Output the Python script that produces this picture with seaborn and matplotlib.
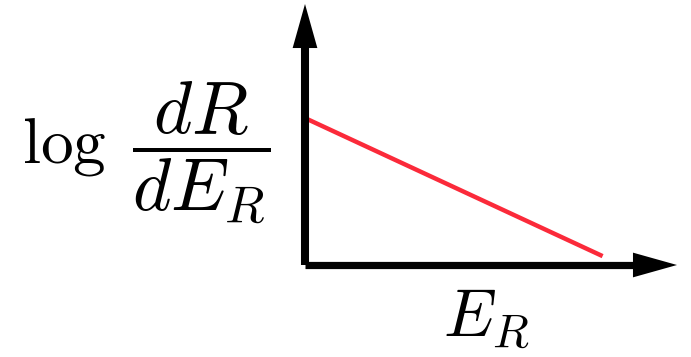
import matplotlib
matplotlib.use("Agg")
import matplotlib.pyplot as plt
import seaborn as sns
import pandas as pd

# Schematic recoil spectrum: log of the differential rate falls linearly with recoil energy
energy = [0.0, 0.80]
log_rate = [0.563, 0.034]

log_text = r"$\log$"
frac_text = r"$\dfrac{dR}{dE_R}$"
xlabel_text = r"$E_R$"

sns.set_style("white")
plt.rcParams["mathtext.fontset"] = "cm"

W, H = 691, 357
fig = plt.figure(figsize=(W / 100, H / 100), dpi=100)
ax = fig.add_axes([305 / W, (H - 265) / H, 372 / W, 261 / H])
ax.set_xlim(0, 1)
ax.set_ylim(0, 1)
ax.axis("off")

df = pd.DataFrame({"energy": energy, "log_rate": log_rate})
sns.lineplot(data=df, x="energy", y="log_rate", ax=ax, color="#fb2a3a",
             linewidth=3.2, zorder=2, legend=False)
for ln in ax.lines:
    ln.set_solid_capstyle("butt")
    ln.set_clip_on(False)

# Axis shafts
ax.plot([0, 0], [0, 0.86], color="black", lw=5.8, solid_capstyle="butt",
        zorder=3, clip_on=False)
ax.plot([0, 0.90], [0, 0], color="black", lw=5.2, solid_capstyle="butt",
        zorder=3, clip_on=False)

# Arrow heads
head = dict(arrowstyle="-|>,head_length=3.17,head_width=0.89", mutation_scale=10,
            lw=0, fc="black", ec="black", shrinkA=0, shrinkB=0)
ax.annotate("", xy=(0, 1), xytext=(0, 0.5), xycoords="data",
            arrowprops=head, annotation_clip=False, zorder=4)
ax.annotate("", xy=(1, 0), xytext=(0.5, 0), xycoords="data",
            arrowprops=head, annotation_clip=False, zorder=4)

# Axis labels
fig.text(22 / W, 1 - 163 / H, log_text, ha="left", va="baseline",
         fontsize=47, color="black")
fig.text(201.5 / W, 1 - 153 / H, frac_text, ha="center", va="center",
         fontsize=53, color="black")
fig.text(486 / W, 1 - 319 / H, xlabel_text, ha="center", va="center",
         fontsize=48, color="black")

fig.savefig("out.png", dpi=100)
